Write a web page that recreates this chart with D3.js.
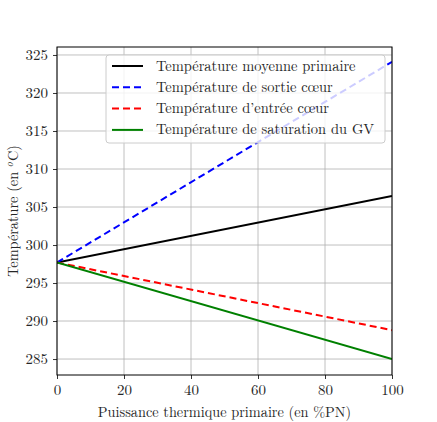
<!DOCTYPE html>
<html>
<head>
<meta charset="utf-8">
<script src="https://cdn.jsdelivr.net/npm/d3@7"></script>
<style>
  body { margin: 0; background: #fff; }
  text { font-family: "Latin Modern Roman", "CMU Serif", "DejaVu Serif", serif; fill: #262626; }
</style>
</head>
<body>
<div id="chart-area"></div>
<script>
// puissance (en %PN)
const puissance = [0, 100];
// températures
const tMoyenne = [297.7, 306.45];
const tSortie = [297.7, 324.1];
const tEntree = [297.7, 288.8];
const tSaturation = [297.7, 285.0];

const seriesNames = ["Température moyenne primaire", "Température de sortie cœur",
                     "Température d’entrée cœur", "Température de saturation du GV"];
const seriesColors = ["#000000", "#0000ff", "#ff0000", "#008000"];
const seriesDash = [null, "7,4", "7,4", null];
const seriesValues = [tMoyenne, tSortie, tEntree, tSaturation];

const xTicks = [0, 20, 40, 60, 80, 100];
const yTicks = [285, 290, 295, 300, 305, 310, 315, 320, 325];

const fontStack = '"Latin Modern Roman", "CMU Serif", "DejaVu Serif", serif';

let margin = {left: 57, right: 45, top: 47, bottom: 47};
let W = 437, H = 422;
let width = W - margin.left - margin.right;
let height = H - margin.top - margin.bottom;

let svg = d3.select("#chart-area").append("svg")
  .attr("width", W).attr("height", H);

let g = svg.append("g")
  .attr("transform", "translate(" + margin.left + "," + margin.top + ")");

let xVal = d3.scaleLinear().domain([0, 100]).range([0, width]);
let yVal = d3.scaleLinear().domain([282.9, 326.05]).range([height, 0]);

// grille
g.append("g").selectAll("line").data(xTicks).enter().append("line")
  .attr("x1", d => xVal(d)).attr("x2", d => xVal(d))
  .attr("y1", 0).attr("y2", height)
  .attr("stroke", "#b0b0b0").attr("stroke-width", 0.8);
g.append("g").selectAll("line").data(yTicks).enter().append("line")
  .attr("y1", d => yVal(d)).attr("y2", d => yVal(d))
  .attr("x1", 0).attr("x2", width)
  .attr("stroke", "#b0b0b0").attr("stroke-width", 0.8);

// axes
let xAxis = g.append("g")
  .attr("transform", "translate(0," + height + ")")
  .call(d3.axisBottom(xVal).tickValues(xTicks).tickSize(4).tickPadding(5));
let yAxis = g.append("g")
  .call(d3.axisLeft(yVal).tickValues(yTicks).tickSize(4).tickPadding(5));
[xAxis, yAxis].forEach(a => {
  a.select(".domain").remove();
  a.selectAll("line").attr("stroke", "#000").attr("stroke-width", 0.8);
  a.selectAll("text").attr("font-size", "15px").attr("fill", "#262626")
    .style("font-family", fontStack);
});

// courbes
let line = d3.line().x((d, i) => xVal(puissance[i])).y(d => yVal(d));
svg.append("clipPath").attr("id", "clip").append("rect")
  .attr("width", width).attr("height", height);
g.append("g").attr("clip-path", "url(#clip)")
  .selectAll("path").data(seriesValues).enter().append("path")
  .attr("d", d => line(d))
  .attr("fill", "none")
  .attr("stroke", (d, i) => seriesColors[i])
  .attr("stroke-width", 2)
  .attr("stroke-dasharray", (d, i) => seriesDash[i]);

// cadre
g.append("rect").attr("width", width).attr("height", height)
  .attr("fill", "none").attr("stroke", "#000").attr("stroke-width", 1);

// légende
let leg = g.append("g").attr("transform", "translate(49,8)");
leg.append("rect").attr("width", 279).attr("height", 88).attr("rx", 3)
  .attr("fill", "#fff").attr("fill-opacity", 0.8)
  .attr("stroke", "#cccccc").attr("stroke-width", 1);
seriesNames.forEach((name, i) => {
  let y = 11 + i * 21.3;
  leg.append("line").attr("x1", 6).attr("x2", 37).attr("y1", y).attr("y2", y)
    .attr("stroke", seriesColors[i]).attr("stroke-width", 2)
    .attr("stroke-dasharray", seriesDash[i]);
  leg.append("text").attr("x", 50).attr("y", y + 4.5)
    .attr("font-size", "14.5px").text(name);
});

// titres des axes
g.append("text").attr("x", width / 2).attr("y", height + 42)
  .attr("text-anchor", "middle").attr("font-size", "14.3px")
  .text("Puissance thermique primaire (en %PN)");

let yl = g.append("text").attr("transform", "rotate(-90)")
  .attr("x", -height / 2).attr("y", -39)
  .attr("text-anchor", "middle").attr("font-size", "14.3px");
yl.append("tspan").text("Température (en ");
yl.append("tspan").attr("font-style", "italic").attr("font-size", "10px")
  .attr("dy", -5).text("o");
yl.append("tspan").attr("dy", 5).attr("dx", 1).text("C)");
</script>
</body>
</html>
